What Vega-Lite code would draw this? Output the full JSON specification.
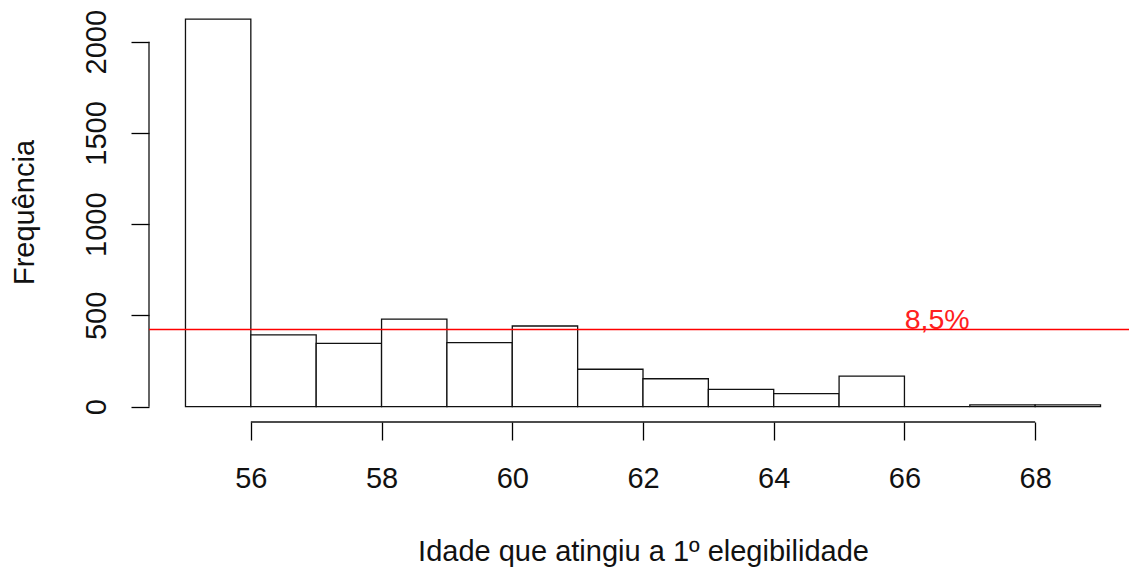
{
  "$schema": "https://vega.github.io/schema/vega-lite/v6.json",
  "width": 988,
  "height": 419,
  "autosize": {"type": "none"},
  "padding": {"left": 149, "top": 3, "right": 0, "bottom": 145},
  "background": "white",
  "config": {
    "view": {"stroke": null},
    "font": "Liberation Sans",
    "axis": {
      "grid": false,
      "domain": false,
      "tickColor": "black",
      "tickWidth": 1.3,
      "tickSize": 18,
      "labelFont": "Liberation Sans",
      "labelFontSize": 29,
      "labelColor": "#111",
      "titleFont": "Liberation Sans",
      "titleFontSize": 29,
      "titleFontWeight": "normal",
      "titleColor": "#111"
    }
  },
  "datasets": {
    "hist": [
      {"start": 55, "end": 56, "count": 2124},
      {"start": 56, "end": 57, "count": 393},
      {"start": 57, "end": 58, "count": 347},
      {"start": 58, "end": 59, "count": 480},
      {"start": 59, "end": 60, "count": 351},
      {"start": 60, "end": 61, "count": 442},
      {"start": 61, "end": 62, "count": 205},
      {"start": 62, "end": 63, "count": 153},
      {"start": 63, "end": 64, "count": 95},
      {"start": 64, "end": 65, "count": 71},
      {"start": 65, "end": 66, "count": 167},
      {"start": 66, "end": 67, "count": 0},
      {"start": 67, "end": 68, "count": 10},
      {"start": 68, "end": 69, "count": 10}
    ],
    "ref": [
      {"level": 423, "labelAge": 66.5, "label": "8,5%"}
    ],
    "one": [{}]
  },
  "layer": [
    {
      "data": {"name": "hist"},
      "mark": {"type": "rect", "fill": "white", "stroke": "#111", "strokeWidth": 1.3},
      "encoding": {
        "x": {
          "field": "start", "type": "quantitative",
          "scale": {"domain": [54.442, 69.558], "nice": false, "zero": false},
          "axis": {
            "values": [56, 58, 60, 62, 64, 66, 68],
            "format": "d",
            "labelPadding": 47,
            "labelBaseline": "alphabetic",
            "title": "Idade que atingiu a 1º elegibilidade",
            "titleY": 138,
            "titleBaseline": "alphabetic"
          }
        },
        "x2": {"field": "end"},
        "y": {
          "field": "count", "type": "quantitative",
          "scale": {"domain": [-84, 2212], "nice": false, "zero": false},
          "axis": {
            "values": [0, 500, 1000, 1500, 2000],
            "format": "d",
            "labelAngle": -90,
            "labelAlign": "center",
            "labelBaseline": "alphabetic",
            "labelPadding": 26,
            "title": "Frequência",
            "titleX": -116,
            "titleY": 209,
            "titleAngle": -90,
            "titleAlign": "center",
            "titleBaseline": "alphabetic"
          }
        },
        "y2": {"datum": 0}
      }
    },
    {
      "data": {"name": "one"},
      "mark": {"type": "rule", "color": "#111", "strokeWidth": 1.3, "clip": false},
      "encoding": {
        "x": {"datum": 56, "type": "quantitative"},
        "x2": {"datum": 68},
        "y": {"datum": -84, "type": "quantitative"}
      }
    },
    {
      "data": {"name": "one"},
      "mark": {"type": "rule", "color": "#111", "strokeWidth": 1.3, "clip": false},
      "encoding": {
        "x": {"datum": 54.442, "type": "quantitative"},
        "y": {"datum": 0, "type": "quantitative"},
        "y2": {"datum": 2000}
      }
    },
    {
      "data": {"name": "ref"},
      "mark": {"type": "rule", "color": "#ff0000", "strokeWidth": 1.3},
      "encoding": {
        "y": {"field": "level", "type": "quantitative"}
      }
    },
    {
      "data": {"name": "ref"},
      "mark": {"type": "text", "color": "#ff2020", "fontSize": 28.5, "font": "Liberation Sans", "align": "center", "baseline": "alphabetic"},
      "encoding": {
        "x": {"field": "labelAge", "type": "quantitative"},
        "y": {"field": "level", "type": "quantitative"},
        "text": {"field": "label"}
      }
    }
  ]
}
